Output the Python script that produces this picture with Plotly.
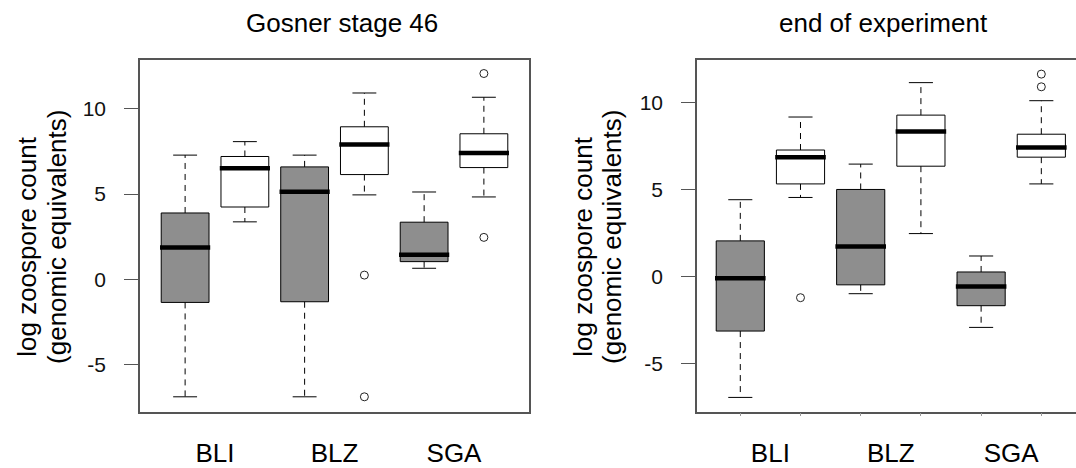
import plotly.graph_objects as go

# ---------------- data ----------------
group_labels = ["BLI", "BLZ", "SGA"]
group_label_pos = [1.5, 3.5, 5.5]
box_positions = [1, 2, 3, 4, 5, 6]
box_fills = ["#8e8e8e", "#ffffff", "#8e8e8e", "#ffffff", "#8e8e8e", "#ffffff"]
tick_values = [-5, 0, 5, 10]
tick_text = ["-5", "0", "5", "10"]

panel_titles = ["Gosner stage 46", "end of experiment"]

stage46_lower = [-6.88, 3.37, -6.88, 4.95, 0.65, 4.83]
stage46_q1 = [-1.35, 4.24, -1.31, 6.14, 1.04, 6.55]
stage46_median = [1.87, 6.51, 5.14, 7.90, 1.44, 7.40]
stage46_q3 = [3.89, 7.20, 6.59, 8.94, 3.35, 8.53]
stage46_upper = [7.28, 8.07, 7.28, 10.92, 5.12, 10.67]
stage46_outliers = [[], [], [], [0.25, -6.88], [], [12.06, 2.46]]

end_lower = [-6.95, 4.56, -0.98, 2.48, -2.92, 5.34]
end_q1 = [-3.13, 5.34, -0.47, 6.36, -1.67, 6.88]
end_median = [-0.09, 6.88, 1.74, 8.35, -0.57, 7.44]
end_q3 = [2.06, 7.29, 5.02, 9.30, 0.27, 8.20]
end_upper = [4.43, 9.19, 6.48, 11.17, 1.19, 10.13]
end_outliers = [[], [-1.21], [], [], [], [11.66, 10.93]]

# ---------------- styling ----------------
W, H = 1076, 468
FONT = "Liberation Sans, Arial, Helvetica, sans-serif"
BOX_HALF = 0.4
CAP_HALF = 0.2
MED_HALF = 0.42
FRAME = "#555555"

fig = go.Figure()


def add_panel(xa, ya, lower, q1, med, q3, upper, outliers):
    # box bodies, grouped by fill colour
    for color in sorted(set(box_fills)):
        xs, ys = [], []
        for p, f, a, b in zip(box_positions, box_fills, q1, q3):
            if f != color:
                continue
            xs += [p - BOX_HALF, p + BOX_HALF, p + BOX_HALF, p - BOX_HALF, p - BOX_HALF, None]
            ys += [a, a, b, b, a, None]
        fig.add_trace(go.Scatter(x=xs, y=ys, mode="lines", fill="toself", fillcolor=color,
                                 line=dict(color="black", width=1), xaxis=xa, yaxis=ya,
                                 hoverinfo="skip", showlegend=False))
    # whiskers (dashed)
    wx, wy = [], []
    for p, lo, a, b, hi in zip(box_positions, lower, q1, q3, upper):
        wx += [p, p, None, p, p, None]
        wy += [b, hi, None, a, lo, None]
    fig.add_trace(go.Scatter(x=wx, y=wy, mode="lines", line=dict(color="black", width=1, dash="6px,5px"),
                             xaxis=xa, yaxis=ya, hoverinfo="skip", showlegend=False))
    # whisker caps
    cx, cy = [], []
    for p, lo, hi in zip(box_positions, lower, upper):
        cx += [p - CAP_HALF, p + CAP_HALF, None, p - CAP_HALF, p + CAP_HALF, None]
        cy += [hi, hi, None, lo, lo, None]
    fig.add_trace(go.Scatter(x=cx, y=cy, mode="lines", line=dict(color="black", width=1),
                             xaxis=xa, yaxis=ya, hoverinfo="skip", showlegend=False))
    # medians
    mx, my = [], []
    for p, m in zip(box_positions, med):
        mx += [p - MED_HALF, p + MED_HALF, None]
        my += [m, m, None]
    fig.add_trace(go.Scatter(x=mx, y=my, mode="lines", line=dict(color="black", width=4.5),
                             xaxis=xa, yaxis=ya, hoverinfo="skip", showlegend=False))
    # outliers
    ox, oy = [], []
    for p, outs in zip(box_positions, outliers):
        for v in outs:
            ox.append(p)
            oy.append(v)
    fig.add_trace(go.Scatter(x=ox, y=oy, mode="markers",
                             marker=dict(symbol="circle-open", size=8, color="#222222",
                                         line=dict(width=1)),
                             xaxis=xa, yaxis=ya, hoverinfo="skip", showlegend=False))


add_panel("x", "y", stage46_lower, stage46_q1, stage46_median, stage46_q3, stage46_upper, stage46_outliers)
add_panel("x2", "y2", end_lower, end_q1, end_median, end_q3, end_upper, end_outliers)

ydom = [1 - 417 / H, 1 - 61 / H]

common_x = dict(tickmode="array", tickvals=group_label_pos, ticktext=group_labels, ticks="",
                tickfont=dict(size=26, color="black", family=FONT), ticklabelstandoff=17,
                showgrid=False, zeroline=False, showline=True, linecolor=FRAME, linewidth=1.5,
                mirror=True)
common_y = dict(tickmode="array", tickvals=tick_values, ticktext=tick_text, ticks="outside",
                ticklen=14, tickcolor=FRAME, tickwidth=1.2,
                tickfont=dict(size=21, color="#111111", family=FONT), ticklabelstandoff=14,
                showgrid=False, zeroline=False, showline=True, linecolor=FRAME, linewidth=1.5)

fig.update_layout(
    width=W, height=H,
    margin=dict(l=0, r=0, t=0, b=0),
    paper_bgcolor="white", plot_bgcolor="white",
    font=dict(family=FONT, color="black"),
    showlegend=False,
    xaxis=dict(domain=[140 / W, 529 / W], range=[0.245, 6.755], anchor="y", **common_x),
    yaxis=dict(domain=ydom, range=[-7.75, 12.84], anchor="x", mirror=True, **common_y),
    xaxis2=dict(domain=[697 / W, 1.0], range=[0.281, 6.576], anchor="y2",
                minor=dict(tickmode="array", tickvals=box_positions, ticks="outside",
                           ticklen=3, tickcolor="#999999"),
                **common_x),
    yaxis2=dict(domain=ydom, range=[-7.77, 12.46], anchor="x2", mirror=False, **common_y),
)

annotations = []
# panel titles
for title, cx in zip(panel_titles, [342, 883]):
    annotations.append(dict(text=title, x=cx / W, y=1 - 23 / H, xref="paper", yref="paper",
                            xanchor="center", yanchor="middle", showarrow=False,
                            font=dict(size=26, family=FONT, color="black")))
# y axis titles (two lines each)
for x1, x2 in [(27, 57), (583, 612)]:
    annotations.append(dict(text="log zoospore count", x=x1 / W, y=1 - 250 / H, xref="paper",
                            yref="paper", xanchor="center", yanchor="middle", textangle=-90,
                            showarrow=False, font=dict(size=26, family=FONT, color="black")))
    annotations.append(dict(text="(genomic equivalents)", x=x2 / W, y=1 - 240 / H, xref="paper",
                            yref="paper", xanchor="center", yanchor="middle", textangle=-90,
                            showarrow=False, font=dict(size=26, family=FONT, color="black")))
fig.update_layout(annotations=annotations)

fig.write_html("out.html")
